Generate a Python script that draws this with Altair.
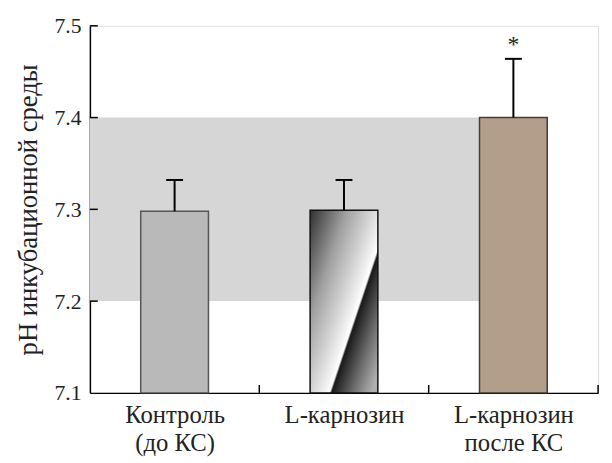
import altair as alt
import pandas as pd

categories = ["Контроль\n(до КС)", "L-карнозин", "L-карнозин\nпосле КС"]
values = [7.298, 7.299, 7.400]
errors = [0.034, 0.033, 0.064]
marks = ["", "", "*"]
y_ticks = [7.1, 7.2, 7.3, 7.4, 7.5]
band_low, band_high = 7.2, 7.4
y_title = "pH инкубационной среды"

W, H = 515, 372
HALF = 0.2   # bar half width in category units
CAP = 0.05   # error cap half width

pos = [i + 0.5 for i in range(len(categories))]
df = pd.DataFrame({
    "pos": pos, "lo": [p - HALF for p in pos], "hi": [p + HALF for p in pos],
    "val": values, "top": [v + e for v, e in zip(values, errors)],
    "clo": [p - CAP for p in pos], "chi": [p + CAP for p in pos],
    "mark": marks, "cat": categories,
})

label_expr = " : ".join(
    f"datum.value == {p} ? {[s for s in c.split(chr(10))]}" for p, c in zip(pos, categories)
) + " : ''"

FONT = "Liberation Serif"
xs = alt.Scale(domain=[0, len(categories)], nice=False, zero=False)
ys = alt.Scale(domain=[y_ticks[0], y_ticks[-1]], nice=False, zero=False)

xaxis = alt.Axis(values=pos, labelExpr=label_expr, title=None, labelPadding=10,
                 labelLineHeight=28, labelBaseline="top", labelFontSize=25, labelFont=FONT)
yaxis = alt.Axis(values=y_ticks, format=".1f", title=y_title, labelPadding=9, titlePadding=12,
                 labelFontSize=22, titleFontSize=27, labelFont=FONT, titleFont=FONT)

base = alt.Chart(df)

band_df = pd.DataFrame({"x0": [0], "x1": [pos[-1] + HALF], "y0": [band_low], "y1": [band_high]})
band = alt.Chart(band_df).mark_rect(color="#d6d6d6").encode(
    x=alt.X("x0:Q", scale=xs, axis=xaxis), x2="x1:Q",
    y=alt.Y("y0:Q", scale=ys, axis=yaxis), y2="y1:Q")

def bar(i, fill, stroke):
    return alt.Chart(df.iloc[[i]]).mark_rect(fill=fill, stroke=stroke, strokeWidth=1.5).encode(
        x=alt.X("lo:Q", scale=xs, axis=xaxis), x2="hi:Q",
        y=alt.Y("val:Q", scale=ys, axis=yaxis), y2=alt.datum(y_ticks[0]))

grad = {"gradient": "linear", "x1": 0, "y1": 0, "x2": 1, "y2": 0.9,
        "stops": [{"offset": 0, "color": "#303030"}, {"offset": 0.3, "color": "#a0a0a0"},
                  {"offset": 0.6, "color": "#eeeeee"}, {"offset": 0.655, "color": "#ffffff"},
                  {"offset": 0.672, "color": "#1a1a1a"}, {"offset": 0.85, "color": "#707070"},
                  {"offset": 1, "color": "#b0b0b0"}]}

b1 = bar(0, "#b9b9b9", "#555555")
b2 = bar(1, grad, "#111111")
b3 = bar(2, "#b39d8b", "#4a3c33")

err = base.mark_rule(color="black", strokeWidth=2).encode(
    x=alt.X("pos:Q", scale=xs, axis=xaxis), y=alt.Y("val:Q", scale=ys, axis=yaxis), y2="top:Q")
cap = base.mark_rule(color="black", strokeWidth=2).encode(
    x=alt.X("clo:Q", scale=xs, axis=xaxis), x2="chi:Q", y=alt.Y("top:Q", scale=ys, axis=yaxis))
star = base.mark_text(font=FONT, fontSize=24, dy=-14, color="#222").encode(
    x=alt.X("pos:Q", scale=xs, axis=xaxis), y=alt.Y("top:Q", scale=ys, axis=yaxis), text="mark:N")

yt = alt.Chart(pd.DataFrame({"t": y_ticks[1:]})).mark_rule(color="black", strokeWidth=1.5).encode(
    x=alt.value(0), x2=alt.value(8), y=alt.Y("t:Q", scale=ys, axis=yaxis))
xt = alt.Chart(pd.DataFrame({"t": list(range(1, len(categories) + 1))})).mark_rule(
    color="black", strokeWidth=1.5).encode(
    x=alt.X("t:Q", scale=xs, axis=xaxis), y=alt.value(H), y2=alt.value(H - 8))

chart = alt.layer(band, b1, b2, b3, err, cap, star, yt, xt).properties(
    width=W, height=H, autosize="none",
    padding={"left": 83, "top": 15, "right": 6, "bottom": 67},
).configure_view(stroke=None).configure(background="white", font=FONT).configure_axis(
    labelFont=FONT, labelColor="#222", titleFont=FONT,
    titleFontWeight="normal", titleColor="#222", tickSize=0, domainColor="black",
    domainWidth=1.5, grid=False).configure_axisY(labelFont=FONT, labelFontSize=22)

chart.save("out.html", embed_options={"renderer": "svg", "actions": False})
